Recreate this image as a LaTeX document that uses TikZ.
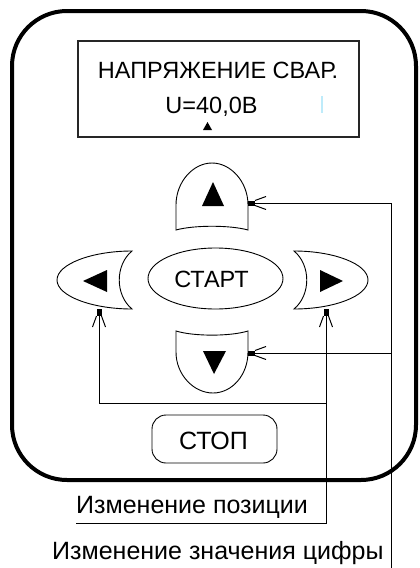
\documentclass[tikz,border=0pt]{standalone}
\usepackage{fontspec}
\setmainfont{Liberation Sans}
\usetikzlibrary{arrows.meta}
\pgfdeclarearrow{
  name = Fork,
  parameters = {fork},
  setup code = {
    \pgfarrowssettipend{0pt}
    \pgfarrowssetlineend{-4pt}
    \pgfarrowssetbackend{-18pt}
    \pgfarrowshullpoint{0pt}{0pt}
    \pgfarrowshullpoint{-18pt}{6.5pt}
    \pgfarrowshullpoint{-18pt}{-6.5pt}
  },
  drawing code = {
    \pgfsetdash{}{0pt}
    \pgfpathrectangle{\pgfpoint{-7pt}{-2.5pt}}{\pgfpoint{7pt}{5pt}}
    \pgfusepathqfill
    \pgfpathmoveto{\pgfpoint{-7pt}{2.5pt}}
    \pgfpathlineto{\pgfpoint{-18pt}{6.5pt}}
    \pgfpathmoveto{\pgfpoint{-7pt}{-2.5pt}}
    \pgfpathlineto{\pgfpoint{-18pt}{-6.5pt}}
    \pgfusepathqstroke
  }
}
\definecolor{cursorcyan}{RGB}{190,235,250}
\tikzset{
  frame/.style={line width=4pt, rounded corners=55pt},
  lcd/.style={line width=1.3pt, draw=black!85},
  btn/.style={line width=0.9pt},
  glyph/.style={fill=black},
  conn/.style={line width=1pt},
  fork/.style={conn, -{Fork}},
  lbl/.style={inner sep=0pt, font=\fontsize{23.5}{27}\selectfont},
  lblsmall/.style={inner sep=0pt, font=\fontsize{25}{29}\selectfont},
}
\begin{document}
\begin{tikzpicture}[x=1pt,y=-1pt]
\useasboundingbox (0,0) rectangle (420,568);
% outer body
\draw[frame] (12,11) rectangle (416,480);
% display
\draw[lcd] (78,41) rectangle (359,137);
\node[lbl, anchor=base] (title) at (218,78) {НАПРЯЖЕНИЕ СВАР.};
\node[lbl, anchor=base] (value) at (211.5,113) {U=40,0В};
\fill[glyph] (207.5,122) -- (212,130) -- (203,130) -- cycle;
\draw[cursorcyan, line width=1.2pt] (322,96) -- (322,113);
% up button
\draw[btn] (176,230) -- (176,205) .. controls (176,182) and (193,163) .. (212,163)
  .. controls (231,163) and (248,182) .. (248,205) -- (248,230)
  .. controls (230,225) and (194,225) .. cycle;
\fill[glyph] (213,182) -- (224,206) -- (202,206) -- cycle;
\coordinate (upB) at (248,203);
% down button
\draw[btn] (176,331) -- (176,352) .. controls (176,375) and (194,393) .. (213,393)
  .. controls (232,393) and (248,375) .. (248,352) -- (248,331)
  .. controls (230,336.5) and (194,336.5) .. cycle;
\fill[glyph] (214,374) -- (226,351) -- (203,351) -- cycle;
\coordinate (downB) at (248,353);
% left button
\draw[btn] (132,251) .. controls (92,251) and (57,264) .. (57,280)
  .. controls (57,296) and (92,309) .. (132,309)
  .. controls (115,295) and (115,265) .. cycle;
\fill[glyph] (83,281) -- (107,270) -- (107,292) -- cycle;
\coordinate (leftB) at (99,309);
% right button
\draw[btn] (294,251) .. controls (334,251) and (368,264) .. (368,280)
  .. controls (368,296) and (334,309) .. (294,309)
  .. controls (311,295) and (311,265) .. cycle;
\fill[glyph] (343,281) -- (320,270) -- (320,292) -- cycle;
\coordinate (rightB) at (326,309);
% start
\draw[btn] (215.5,278.5) ellipse [x radius=67.5, y radius=30.5];
\node[lbl, anchor=base] (start) at (211.5,287) {СТАРТ};
% stop
\draw[btn, rounded corners=14pt] (152,415) rectangle (277,463);
\node[lbl, anchor=base, font=\fontsize{25}{29}\selectfont] (stop) at (213.5,449) {СТОП};
% labels
\node[lblsmall, anchor=base west] (pos) at (76,513) {Изменение позиции};
\node[lblsmall, anchor=base west] (val) at (52,559) {Изменение значения цифры};
% connectors
\coordinate (valEnd) at (391,568);
\coordinate (jDown) at (391,353);
\coordinate (posL) at (76,523);
\coordinate (posR) at (326,523);
\coordinate (jLeft) at (326,403);
\draw[fork] (valEnd) |- (upB);
\draw[fork] (jDown) -- (downB);
\draw[fork] (posL) -- (posR) -- (rightB);
\draw[fork] (jLeft) -| (leftB);
\end{tikzpicture}
\end{document}
